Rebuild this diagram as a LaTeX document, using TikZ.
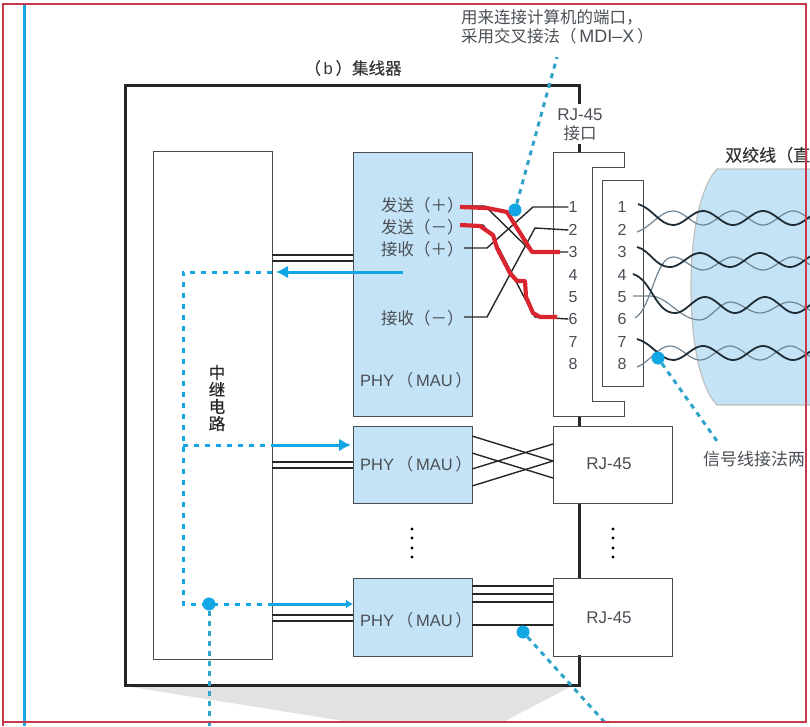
\documentclass[tikz,border=0pt]{standalone}
\usepackage{fontspec}
\setmainfont{Noto Sans CJK SC}
\newfontfamily\latnfont{Liberation Sans}
\newfontfamily\medfont[FakeBold=0.25]{Noto Sans CJK SC}
\usetikzlibrary{arrows.meta}
\definecolor{panelblue}{HTML}{C5E3F6}
\definecolor{signalblue}{HTML}{12A6E4}
\definecolor{leaderblue}{HTML}{2FA3C8}
\definecolor{wirered}{HTML}{D9252F}
\definecolor{inkgray}{HTML}{4A4F55}
\definecolor{framered}{HTML}{C8394B}
\definecolor{wirelight}{HTML}{6F8494}
\definecolor{wiredark}{HTML}{1E2C36}
\definecolor{shadowgray}{HTML}{E2E2E2}
\newcommand\txt{\fontsize{16.5}{19.5}\selectfont}
\newcommand\latn[1]{{\latnfont\fontsize{16.5}{19.5}\selectfont #1}}
\newcommand\phytext{\latn{PHY}\,（\,\latn{MAU}\,）}
\tikzset{
  unit/.style={draw=black!70, line width=.9pt, inner sep=0, outer sep=0, anchor=north west},
  phyunit/.style={unit, fill=panelblue, draw=inkgray},
  label/.style={inner sep=0, text=inkgray, font=\txt},
  title/.style={inner sep=0, text=black!80, font=\medfont\txt},
  pin/.style={inner sep=0, text=inkgray, font=\latnfont\fontsize{16}{18}\selectfont},
  wire/.style={line width=1.4pt, black!85},
  redwire/.style={line width=4.2pt, wirered, line join=round},
  dataflow/.style={line width=3pt, signalblue, dash pattern=on 5pt off 6pt},
  dataarrow/.style={line width=3pt, signalblue},
  leader/.style={line width=3pt, leaderblue, dash pattern=on 5pt off 5pt},
  callout/.style={circle, fill=signalblue, minimum size=13pt, inner sep=0},
  strand/.style={line width=1.8pt, wiredark},
  faintstrand/.style={line width=1.2pt, wirelight},
  chassis/.style={line width=3pt, black!85},
  ellipsisdot/.style={circle, fill=black, minimum size=3.4pt, inner sep=0}
}
\begin{document}
\begin{tikzpicture}[x=1pt,y=-1pt]
\useasboundingbox (0,0) rectangle (810,726);

% shadow cone under the hub
\fill[shadowgray] (125,686) -- (572,686) -- (503,722) -- (350,722) -- cycle;

% hub chassis, broken where the ports pass through
\draw[chassis] (579,104) -- (579,85) -- (125,85) -- (125,685) -- (579,685) -- (579,655);
\draw[chassis] (579,144) -- (579,152);
\draw[chassis] (579,416) -- (579,426);
\draw[chassis] (579,503) -- (579,578);

% twisted-pair cable body
\path[fill=panelblue, draw=black!25, line width=1.2pt]
  (810,169) -- (717,169) .. controls (698,190) and (691,240) .. (691,287)
  .. controls (691,335) and (698,385) .. (717,405) -- (810,405);

% functional blocks
\node[unit] (relay) at (153,151) [minimum width=119pt, minimum height=508pt] {};
\node[phyunit] (phya) at (353,152) [minimum width=119pt, minimum height=264pt] {};
\node[phyunit] (phyb) at (353,426) [minimum width=119pt, minimum height=77pt] {};
\node[phyunit] (phyc) at (353,578) [minimum width=119pt, minimum height=78pt] {};
\node[unit] (rjb) at (553,426) [minimum width=119pt, minimum height=77pt] {};
\node[unit] (rjc) at (553,578) [minimum width=119pt, minimum height=78pt] {};

% RJ-45 socket outline and plug
\draw[black!70, line width=.9pt, fill=white] (553,152) -- (624,152) -- (624,167) -- (592,167) -- (592,401) -- (624,401) -- (624,416) -- (553,416) -- cycle;
\node[unit, line width=1pt] (plug) at (602,180) [minimum width=41pt, minimum height=206pt] {};

% block captions
\node[inner sep=0, align=center, text=black!85, font=\medfont\fontsize{16.5}{17}\selectfont] (relaytext) at (217,398) {中\\继\\电\\路};
\node[label] (phyatext) at (416,380) {\phytext};
\node[label] (phybtext) at (416,464) {\phytext};
\node[label] (phyctext) at (416,620) {\phytext};
\node[pin, font=\latnfont\fontsize{17}{19}\selectfont] (rjbtext) at (609,464) {RJ-45};
\node[pin, font=\latnfont\fontsize{17}{19}\selectfont] (rjctext) at (609,618) {RJ-45};
\node[label, align=center] (rjtext) at (580,125) {{\latnfont\fontsize{17}{20}\selectfont RJ-45}\\接口};
\node[label, anchor=west, align=left] (topnote) at (461,27) {用来连接计算机的端口，\\采用交叉接法（\,{\latnfont\fontsize{18}{19.5}\selectfont MDI–X}\,）};
\node[title] (hubtitle) at (353,68) {（\,\latn{b}\,）集线器};
\node[title, font=\medfont\fontsize{17}{19}\selectfont, anchor=west] (cabletitle) at (725,155) {双绞线（直};
\node[label, font=\fontsize{17}{19}\selectfont, anchor=west] (cablenote) at (703,459) {信号线接法两};

% signal names on the first PHY
\node[label, anchor=west] (txp) at (381,205) {发送（＋）};
\node[label, anchor=west] (txn) at (381,227) {发送（－）};
\node[label, anchor=west] (rxp) at (381,249) {接收（＋）};
\node[label, anchor=west] (rxn) at (381,318) {接收（－）};

% pin numbers on socket and plug
\foreach \n/\y in {1/207,2/230,3/252,4/275,5/297,6/319,7/342,8/364}{
  \node[pin] (s\n) at (573,\y) {\n};
  \node[pin] (p\n) at (622,\y) {\n};
}

% links between relay circuit and PHY blocks
\foreach \y in {255,261}{\draw[wire] (relay.east |- 0,\y) -- (phya.west |- 0,\y);}
\foreach \y in {462,468}{\draw[wire] (relay.east |- 0,\y) -- (phyb.west |- 0,\y);}
\foreach \y in {615,621}{\draw[wire] (relay.east |- 0,\y) -- (phyc.west |- 0,\y);}

% crossed pairs from the second PHY to its port
\draw[wire] (phyb.east |- 0,436) -- (rjb.west |- 0,461);
\draw[wire] (phyb.east |- 0,453) -- (rjb.west |- 0,478);
\draw[wire] (phyb.east |- 0,469) -- (rjb.west |- 0,444);
\draw[wire] (phyb.east |- 0,486) -- (rjb.west |- 0,461);

% straight lines from the third PHY to its port
\foreach \y in {586,594,602,625}{\draw[wire] (phyc.east |- 0,\y) -- (rjc.west |- 0,\y);}

% wiring of the first PHY to the socket
\draw[wire] (rxp.east |- 0,248) -- (487,248) -- (533,207) -- (s1.west);
\draw[wire] (rxn.east |- 0,317) -- (487,317) -- (535,228) -- (s2.west);
\draw[wire] (txp.east |- 0,206) -- (485,206) -- (532,252) -- (s3.west);
\draw[wire] (txn.east |- 0,225) -- (483,225) -- (493,237) -- (523,295) -- (535,317) -- (s6.west);

% highlighted crossover on the transmit pair
\draw[redwire] (460,207) -- (487,208) -- (507,212) -- (532,252) -- (560,252);
\draw[redwire] (460,225) -- (480,226) -- (493,235) -- (497,248) -- (510,273) -- (517,281) -- (525,281) -- (526,297) -- (533,313) -- (540,317) -- (557,317);

% twisted pairs leaving the plug
\draw[faintstrand] (637,232) .. controls (650,228) and (660,211) .. (673,211) -- plot[domain=673:810,samples=70] (\x,{218-7*cos((\x-673)*6)});
\draw[strand] (638,204) .. controls (652,208) and (660,225) .. (673,225) -- plot[domain=673:810,samples=70] (\x,{218+7*cos((\x-673)*6)});

\draw[faintstrand] (635,318) .. controls (652,308) and (655,257) .. (673,257) -- plot[domain=673:810,samples=70] (\x,{263.5-6.5*cos((\x-673)*6)});
\draw[strand] (637,247) .. controls (650,250) and (655,267) .. (670,267) -- plot[domain=670:810,samples=70] (\x,{260+7*cos((\x-670)*6)});

\draw[faintstrand] (633,296) -- (650,296) .. controls (668,296) and (680,320) .. (700,320) .. controls (710,320) and (720,302) .. (730,302) -- plot[domain=730:810,samples=40] (\x,{307.5-5.5*cos((\x-730)*6)});
\draw[strand] (633,274) .. controls (652,280) and (655,313) .. (675,313) -- plot[domain=675:810,samples=70] (\x,{305+8*cos((\x-675)*6)});

\draw[faintstrand] (637,367) .. controls (650,362) and (658,346) .. (670,346) -- plot[domain=670:810,samples=70] (\x,{353-7*cos((\x-670)*6)});
\draw[strand] (637,339) .. controls (652,343) and (660,360) .. (673,360) -- plot[domain=673:810,samples=70] (\x,{353+7*cos((\x-673)*6)});

% repeated traffic inside the relay circuit
\coordinate (busleft) at (183,272);
\coordinate (busmid) at (183,445);
\coordinate (buslow) at (183,604);
\coordinate (rxsource) at (403,272);
\coordinate (rxtip) at (276,272);
\draw[dataflow] (relay.east |- busleft) -- (busleft) -- (buslow) -- (relay.east |- buslow);
\draw[dataflow] (busmid) -- (relay.east |- busmid);
\draw[dataarrow, -{Latex[length=12pt,width=13pt]}] (rxsource) -- (rxtip);
\draw[dataarrow, -{Latex[length=12pt,width=13pt]}] (relay.east |- busmid) -- ([xshift=-2pt]phyb.west |- busmid);
\draw[dataarrow, -{Latex[length=7pt,width=9pt]}] (relay.east |- buslow) -- (phyc.west |- buslow);

% callouts and their leader lines
\node[callout] (dotrelay) at (209,604) {};
\coordinate (leadrelay) at (209,726);
\draw[leader] (dotrelay) -- (leadrelay);
\node[callout] (dotphy) at (515,210) {};
\coordinate (leadphy) at (557,57);
\draw[leader] (dotphy) -- (leadphy);
\node[callout] (dotpair) at (658,358) {};
\coordinate (leadpair) at (717,441);
\draw[leader] (dotpair) -- (leadpair);
\node[callout] (dotlink) at (523,632) {};
\coordinate (leadlink) at (608,726);
\draw[leader] (dotlink) -- (leadlink);

% stacked-port ellipses
\foreach \y in {529,538,548,557}{
  \node[ellipsisdot] (vl\y) at (412,\y) {};
  \node[ellipsisdot] (vr\y) at (613,\y) {};
}

% outer rules of the page
\draw[signalblue, line width=3pt] (24,3) -- (24,726);
\draw[framered, line width=1.4pt] (3,726) -- (3,4) -- (806,4) -- (806,722) -- (3,722);
\end{tikzpicture}
\end{document}
